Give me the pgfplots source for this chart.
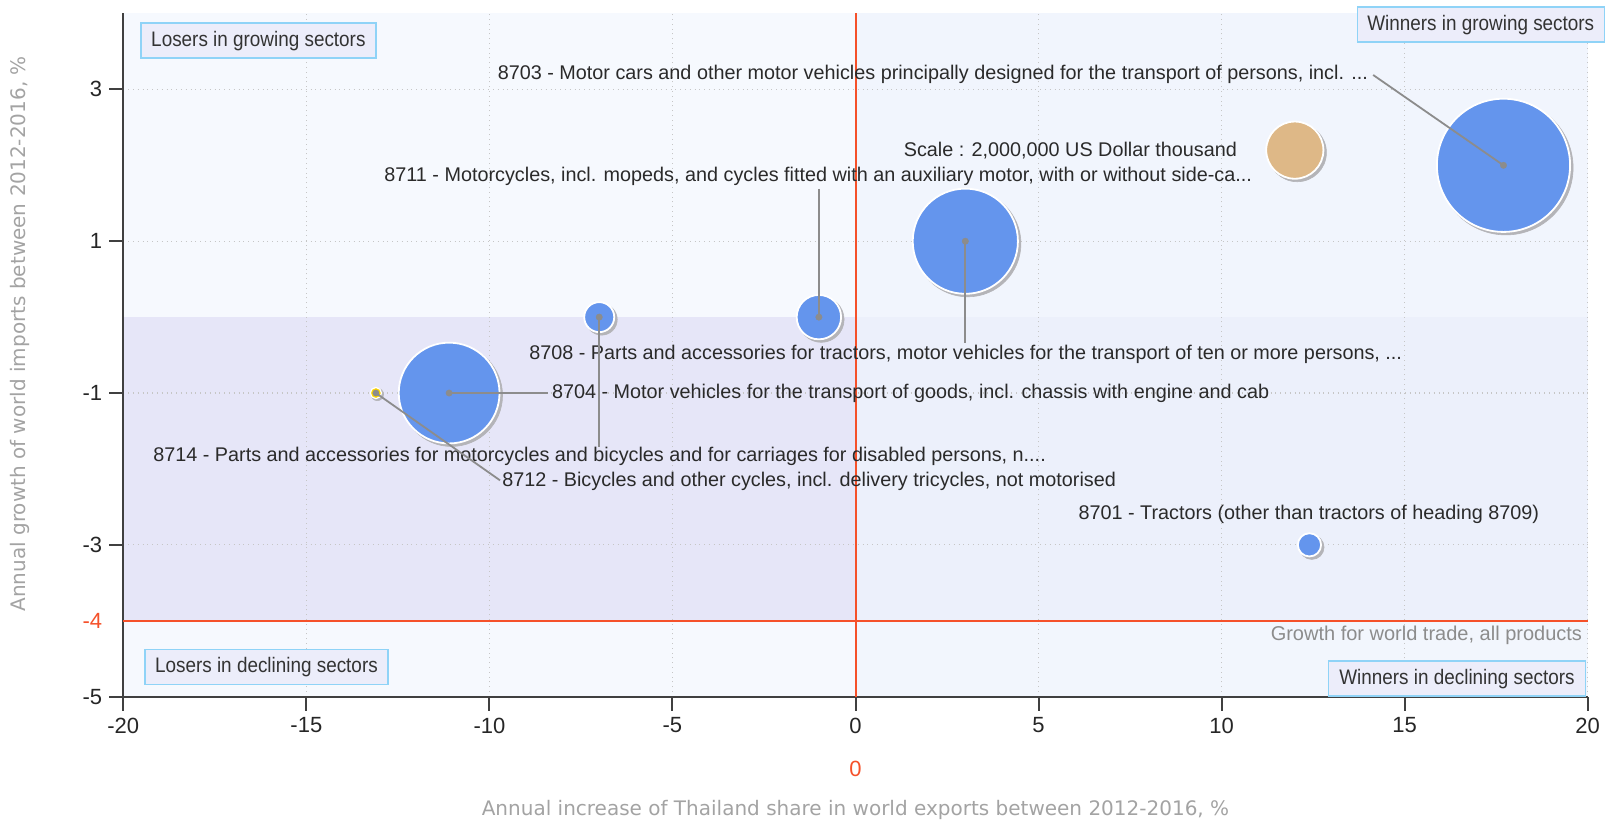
\documentclass[border=0pt]{standalone}
\usepackage{pgfplots}
\usepackage{pgfplotstable}
\pgfplotsset{compat=1.18}
\usepackage{fontspec}
\setmainfont{Liberation Sans}
\newfontfamily\dejavu{DejaVu Sans}
\newfontfamily\boxfont[FakeStretch=0.9]{Liberation Sans}
\definecolor{bubble}{HTML}{6495ED}
\definecolor{scalec}{HTML}{DEB887}
\definecolor{goldc}{HTML}{FFD700}
\definecolor{redline}{HTML}{F5512A}
\definecolor{bgbase}{HTML}{F6F9FE}
\definecolor{bgright}{HTML}{F1F5FD}
\definecolor{bgrightlow}{HTML}{ECF0FB}
\definecolor{bglav}{HTML}{E6E6F8}
\definecolor{bgbotright}{HTML}{F2F6FD}
\definecolor{leader}{HTML}{8C8C8C}
\definecolor{shadowc}{HTML}{B4B4B8}
\definecolor{boxedge}{HTML}{8FD3F7}
\definecolor{boxfill}{HTML}{ECEDFA}
\definecolor{titlegray}{HTML}{A3A3A3}
\definecolor{axisgray}{HTML}{404040}
\definecolor{anntext}{HTML}{2A2A2A}

% x = annual increase of export share (%), y = annual growth of world imports (%), r = bubble radius (pt)
\pgfplotstableread{
x y r
17.7 2.0 33.3
3.0 1.0 26.3
-11.1 -1.0 25.2
-1.0 0.0 11.1
-7.0 0.0 7.5
12.4 -3.0 5.8
}\bubbles
\pgfplotstableread{
x y r
12.0 2.2 14.3
}\scalebubble
\pgfplotstableread{
x y r
-13.1 -1.0 2.8
}\smallbubble
\pgfplotstableread{
x y
17.7 2.0
3.0 1.0
-11.1 -1.0
-1.0 0.0
-7.0 0.0
-13.1 -1.0
}\centers

\tikzset{ann/.style={inner sep=0pt, text=anntext, font=\fontsize{9.9}{12}\selectfont},
  quad/.style={draw=boxedge, fill=boxfill, line width=0.8pt, inner sep=0pt, text=black!80,
    font=\boxfont\fontsize{10.5}{12}\selectfont, minimum height=17.5pt}}

\begin{document}
\begin{tikzpicture}
\begin{axis}[
  at={(61.65pt,62.65pt)}, anchor=south west,
  scale only axis, width=732.2pt, height=341.6pt,
  xmin=-20, xmax=20, ymin=-5, ymax=4,
  axis x line*=bottom, axis y line*=left,
  xtick={-20,-15,...,20}, ytick={-5,-3,-1,1,3},
  extra y ticks={-4},
  extra y tick style={grid=none, tick style={draw=none}, yticklabel style={text=redline}},
  tick align=outside, major tick length=7pt,
  grid=major, grid style={dotted, color=gray!45, line width=0.6pt},
  axis line style={axisgray, line width=1pt},
  tick style={axisgray, line width=1pt},
  tick label style={font=\fontsize{11}{13}\selectfont, text=black!85},
  /pgf/number format/assume math mode=true,
  set layers, clip=false,
]
\begin{pgfonlayer}{axis background}
\fill[bgbase] (axis cs:-20,-5) rectangle (axis cs:20,4);
\fill[bgright] (axis cs:0,-4) rectangle (axis cs:20,4);
\fill[bgrightlow] (axis cs:0,-4) rectangle (axis cs:20,0);
\fill[bglav] (axis cs:-20,-4) rectangle (axis cs:0,0);
\fill[bgbotright] (axis cs:0,-5) rectangle (axis cs:20,-4);
\end{pgfonlayer}

\draw[redline, line width=1pt] (axis cs:0,-5) -- (axis cs:0,4);
\draw[redline, line width=1pt] (axis cs:-20,-4) -- (axis cs:20,-4);

% shadows
\addplot[scatter, only marks, mark=*, point meta=y,
  scatter/use mapped color={draw=shadowc, fill=shadowc, line width=0.3pt},
  visualization depends on={\thisrow{r} \as \rad},
  scatter/@pre marker code/.append style={/tikz/mark size=\rad+0.3, /tikz/xshift=1.2pt, /tikz/yshift=-1.2pt}]
  table[x=x,y=y] {\bubbles};
\addplot[scatter, only marks, mark=*, point meta=y,
  scatter/use mapped color={draw=shadowc, fill=shadowc, line width=0.3pt},
  visualization depends on={\thisrow{r} \as \rad},
  scatter/@pre marker code/.append style={/tikz/mark size=\rad+0.3, /tikz/xshift=1.2pt, /tikz/yshift=-1.2pt}]
  table[x=x,y=y] {\scalebubble};
\addplot[scatter, only marks, mark=*, point meta=y,
  scatter/use mapped color={draw=shadowc, fill=shadowc, line width=0.3pt},
  visualization depends on={\thisrow{r} \as \rad},
  scatter/@pre marker code/.append style={/tikz/mark size=\rad+0.3, /tikz/xshift=0.7pt, /tikz/yshift=-0.7pt}]
  table[x=x,y=y] {\smallbubble};

% bubbles
\addplot[scatter, only marks, mark=*, point meta=y,
  scatter/use mapped color={draw=white, fill=bubble, line width=0.9pt},
  visualization depends on={\thisrow{r} \as \rad},
  scatter/@pre marker code/.append style={/tikz/mark size=\rad}]
  table[x=x,y=y] {\bubbles};
\addplot[scatter, only marks, mark=*, point meta=y,
  scatter/use mapped color={draw=white, fill=scalec, line width=0.9pt},
  visualization depends on={\thisrow{r} \as \rad},
  scatter/@pre marker code/.append style={/tikz/mark size=\rad}]
  table[x=x,y=y] {\scalebubble};
\addplot[scatter, only marks, mark=*, point meta=y,
  scatter/use mapped color={draw=white, fill=goldc, line width=0.6pt},
  visualization depends on={\thisrow{r} \as \rad},
  scatter/@pre marker code/.append style={/tikz/mark size=\rad}]
  table[x=x,y=y] {\smallbubble};

% leader lines (above the bubbles)
\begin{pgfonlayer}{axis foreground}
\draw[leader, line width=0.9pt] (axis cs:14.14,3.19) -- (axis cs:17.7,2.0);
\draw[leader, line width=0.9pt] (axis cs:-1,1.69) -- (axis cs:-1,0);
\draw[leader, line width=0.9pt] (axis cs:3,1) -- (axis cs:3,-0.34);
\draw[leader, line width=0.9pt] (axis cs:-11.1,-1) -- (axis cs:-8.4,-1);
\draw[leader, line width=0.9pt] (axis cs:-13.1,-1) -- (axis cs:-9.71,-2.15);
\draw[leader, line width=0.9pt] (axis cs:-7,0) -- (axis cs:-7,-1.71);
\end{pgfonlayer}

\addplot[on layer=axis foreground, only marks, mark=*, mark size=1.6pt, mark options={draw=leader, fill=leader, line width=0.2pt}]
  table[x=x,y=y] {\centers};

% annotations
\node[ann, anchor=east] at (axis cs:14.01,3.20) {8703 - Motor cars and other motor vehicles principally designed for the transport of persons, incl. ...};
\node[ann, anchor=east] at (axis cs:10.43,2.20) {Scale : 2,000,000 US Dollar thousand};
\node[ann, anchor=east] at (axis cs:10.84,1.86) {8711 - Motorcycles, incl. mopeds, and cycles fitted with an auxiliary motor, with or without side-ca...};
\node[ann, anchor=west] at (axis cs:-8.92,-0.49) {8708 - Parts and accessories for tractors, motor vehicles for the transport of ten or more persons, ...};
\node[ann, anchor=west] at (axis cs:-8.30,-1.0) {8704 - Motor vehicles for the transport of goods, incl. chassis with engine and cab};
\node[ann, anchor=west] at (axis cs:-19.19,-1.84) {8714 - Parts and accessories for motorcycles and bicycles and for carriages for disabled persons, n....};
\node[ann, anchor=west] at (axis cs:-9.66,-2.17) {8712 - Bicycles and other cycles, incl. delivery tricycles, not motorised};
\node[ann, anchor=east] at (axis cs:18.68,-2.6) {8701 - Tractors (other than tractors of heading 8709)};
\node[ann, anchor=east, text=black!45, font=\fontsize{10}{12}\selectfont] at (axis cs:19.855,-4.19) {Growth for world trade, all products};

% quadrant boxes
\node[quad, minimum width=117.5pt] at (axis cs:-16.31,3.643) {Losers in growing sectors};
\node[quad, minimum width=121.5pt] at (axis cs:-16.09,-4.611) {Losers in declining sectors};
\node[quad, minimum width=123.5pt] at (axis cs:17.08,3.854) {Winners in growing sectors};
\node[quad, minimum width=128.5pt] at (axis cs:16.43,-4.763) {Winners in declining sectors};

% axis titles
\node[text=redline, font=\fontsize{11}{13}\selectfont] at ([yshift=-36pt]axis cs:0,-5) {0};
\node[text=titlegray, font=\dejavu\fontsize{10}{12}\selectfont] at ([yshift=-56.7pt]rel axis cs:0.5,0) {Annual increase of Thailand share in world exports between 2012-2016, \%};
\node[text=titlegray, font=\dejavu\fontsize{10}{12}\selectfont, rotate=90] at ([xshift=-51.65pt]rel axis cs:0,0.531) {Annual growth of world imports between 2012-2016, \%};
\end{axis}
\pgfresetboundingbox
\path[use as bounding box] (0,0) rectangle (804pt,411pt);
\end{tikzpicture}
\end{document}
